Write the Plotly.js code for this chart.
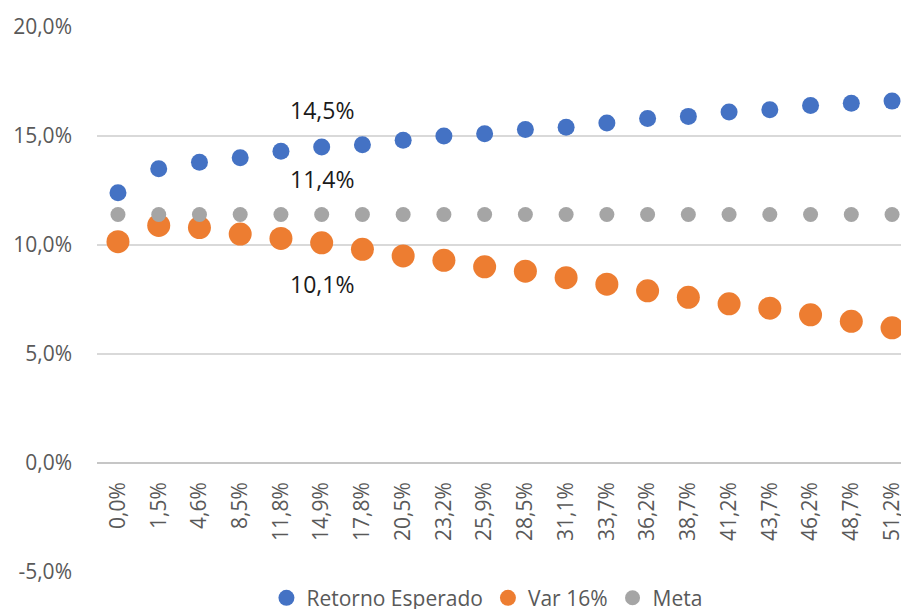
<!DOCTYPE html>
<html>
<head>
<meta charset="utf-8">
<script src="https://cdn.plot.ly/plotly-3.0.1.min.js"></script>
<style>html,body{margin:0;padding:0;background:#fff;}#chart{width:901px;height:609px;}</style>
</head>
<body>
<div id="chart"></div>
<script>
var categories = ["0,0%","1,5%","4,6%","8,5%","11,8%","14,9%","17,8%","20,5%","23,2%","25,9%","28,5%","31,1%","33,7%","36,2%","38,7%","41,2%","43,7%","46,2%","48,7%","51,2%"];
var retornoEsperado = [0.124,0.135,0.138,0.140,0.143,0.145,0.146,0.148,0.150,0.151,0.153,0.154,0.156,0.158,0.159,0.161,0.162,0.164,0.165,0.166];
var var16 = [0.1015,0.109,0.108,0.105,0.103,0.101,0.098,0.095,0.093,0.090,0.088,0.085,0.082,0.079,0.076,0.073,0.071,0.068,0.065,0.062];
var meta = [0.114,0.114,0.114,0.114,0.114,0.114,0.114,0.114,0.114,0.114,0.114,0.114,0.114,0.114,0.114,0.114,0.114,0.114,0.114,0.114];
var yTickVals = [-0.05, 0, 0.05, 0.10, 0.15, 0.20];
var yTickLabels = ["-5,0%", "0,0%", "5,0%", "10,0%", "15,0%", "20,0%"];
var labelIndex = 5;

function fmt(v){ return (v*100).toFixed(1).replace('.', ',') + '%'; }

var FONT = '"Open Sans", "Noto Sans", sans-serif';
var traces = [
  {type:'scatter', mode:'markers', name:'Retorno Esperado', x:categories, y:retornoEsperado,
   marker:{color:'#4472C4', size:17}},
  {type:'scatter', mode:'markers', name:'Var 16%', x:categories, y:var16,
   marker:{color:'#ED7D31', size:23}},
  {type:'scatter', mode:'markers', name:'Meta', x:categories, y:meta,
   marker:{color:'#A5A5A5', size:15}}
];

var annFont = {family:FONT, size:23, color:'#1a1a1a'};
var annotations = [
  {x:categories[labelIndex], y:retornoEsperado[labelIndex], text:fmt(retornoEsperado[labelIndex]), showarrow:false, yshift:37, font:annFont},
  {x:categories[labelIndex], y:meta[labelIndex], text:fmt(meta[labelIndex]), showarrow:false, yshift:35, font:annFont},
  {x:categories[labelIndex], y:var16[labelIndex], text:fmt(var16[labelIndex]), showarrow:false, yshift:-41, font:annFont}
];

var layout = {
  width:901, height:609,
  margin:{l:97, r:0, t:27, b:37, autoexpand:false},
  paper_bgcolor:'#ffffff', plot_bgcolor:'#ffffff',
  separators:',.',
  font:{family:FONT, size:21, color:'#595959'},
  showlegend:true,
  legend:{orientation:'h', x:0.485, xanchor:'center', y:-0.048, yanchor:'middle',
          font:{family:FONT, size:21, color:'#595959'}, itemwidth:30, traceorder:'normal'},
  xaxis:{type:'category', range:[-0.515, 19.22], showgrid:false, zeroline:false, showline:false,
         anchor:'free', position:0.2, tickangle:-90, ticks:'', ticklabelstandoff:14,
         tickfont:{family:FONT, size:21, color:'#595959'}, fixedrange:true},
  yaxis:{range:[-0.05, 0.20], tickmode:'array', tickvals:yTickVals, ticktext:yTickLabels, showgrid:true,
         gridcolor:'#d9d9d9', gridwidth:1.5, zeroline:true, zerolinecolor:'#c6c6c6', zerolinewidth:2,
         showline:false, ticks:'', ticklabelstandoff:24,
         tickfont:{family:FONT, size:21, color:'#595959'}, fixedrange:true},
  annotations:annotations
};

Plotly.newPlot('chart', traces, layout, {displayModeBar:false, staticPlot:true});
</script>
</body>
</html>
